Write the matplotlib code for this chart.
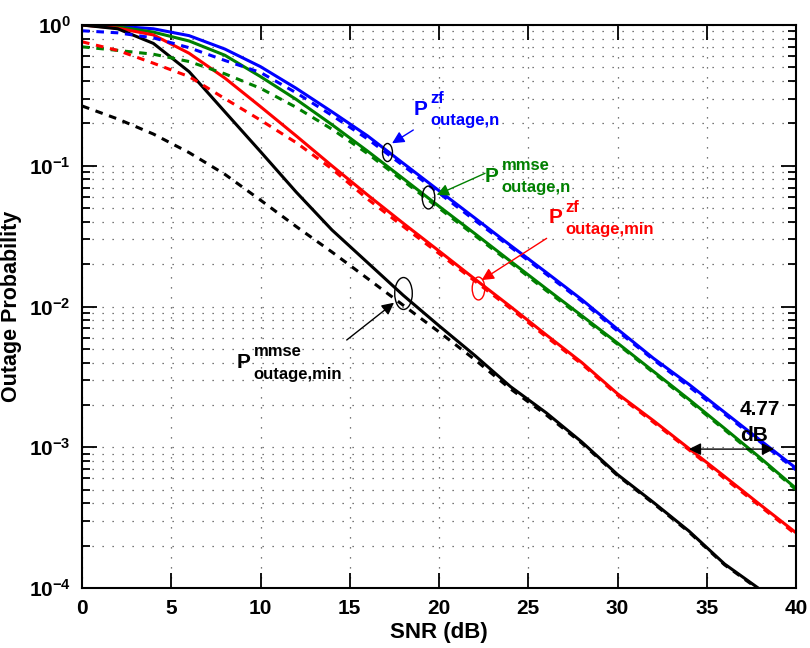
import numpy as np
import matplotlib
matplotlib.use('Agg')
import matplotlib.pyplot as plt
from matplotlib.path import Path
from matplotlib.ticker import FuncFormatter, NullFormatter, LogLocator, MultipleLocator

plt.rcParams['font.family'] = ['Liberation Sans', 'DejaVu Sans']
plt.rcParams['font.weight'] = 'bold'
plt.rcParams['mathtext.fontset'] = 'custom'
plt.rcParams['mathtext.rm'] = 'Liberation Sans:bold'
plt.rcParams['mathtext.bf'] = 'Liberation Sans:bold'
plt.rcParams['mathtext.it'] = 'Liberation Sans:bold'

# SNR grid (dB)
snr = [0, 2, 4, 6, 8, 10, 12, 14, 16, 18, 20, 22, 24, 26, 28, 30, 32, 34, 36, 38, 40]

# outage probabilities
zf_n = [1.0, 0.98, 0.94, 0.84, 0.675, 0.506, 0.355, 0.242, 0.163, 0.104, 0.0665,
        0.0426, 0.0272, 0.0175, 0.0112, 0.0069, 0.0043, 0.0028, 0.00177, 0.00112, 0.00071]
zf_n_d = [0.91, 0.88, 0.81, 0.69, 0.56, 0.46, 0.33, 0.228, 0.155, 0.1, 0.064,
          0.041, 0.0265, 0.017, 0.0109, 0.0067, 0.0042, 0.0027, 0.00172, 0.00109, 0.00069]
mmse_n = [1.0, 0.97, 0.89, 0.77, 0.61, 0.43, 0.296, 0.196, 0.127, 0.081, 0.0515,
          0.033, 0.021, 0.0134, 0.0086, 0.0055, 0.00347, 0.00219, 0.00136, 0.00084, 0.00051]
mmse_n_d = [0.70, 0.66, 0.62, 0.55, 0.45, 0.355, 0.26, 0.182, 0.122, 0.078, 0.05,
            0.032, 0.0205, 0.013, 0.0084, 0.0054, 0.0034, 0.00214, 0.00133, 0.00082, 0.0005]
zf_min = [1.0, 0.95, 0.85, 0.63, 0.42, 0.263, 0.163, 0.1, 0.062, 0.039, 0.0248,
          0.0157, 0.01, 0.0063, 0.004, 0.0024, 0.00155, 0.00098, 0.00062, 0.00039, 0.000247]
zf_min_d = [0.76, 0.66, 0.535, 0.43, 0.30, 0.211, 0.146, 0.095, 0.058, 0.037, 0.0238,
            0.0152, 0.0097, 0.0061, 0.0039, 0.00235, 0.00151, 0.00096, 0.0006, 0.00038, 0.00024]
mmse_min = [1.0, 0.94, 0.74, 0.466, 0.242, 0.126, 0.065, 0.035, 0.0205, 0.012, 0.0073,
            0.0045, 0.0027, 0.00176, 0.00109, 0.00064, 0.000407, 0.000254, 0.000148, 0.0000975, 0.000067]
mmse_min_d = [0.266, 0.215, 0.168, 0.124, 0.087, 0.057, 0.037, 0.0244, 0.0158, 0.0102, 0.0066,
              0.0042, 0.0026, 0.0017, 0.00107, 0.00063, 0.0004, 0.00025, 0.000146, 0.000096, 0.000066]

fig = plt.figure(figsize=(8.1, 6.48), dpi=100)
ax = fig.add_axes([82/810, 60/648, 714/810, 563/648])

lw = 2.2
dash = (0, (2.5, 2.2))
ax.plot(snr, zf_n, color='blue', lw=lw)
ax.plot(snr, mmse_n, color='green', lw=lw)
ax.plot(snr, zf_min, color='red', lw=lw)
ax.plot(snr, mmse_min, color='black', lw=lw)
ax.plot(snr, zf_n_d, color='blue', lw=lw, ls=dash)
ax.plot(snr, mmse_n_d, color='green', lw=lw, ls=dash)
ax.plot(snr, zf_min_d, color='red', lw=lw, ls=dash)
ax.plot(snr, mmse_min_d, color='black', lw=lw, ls=dash)

ax.set_yscale('log')
ax.set_xlim(0, 40)
ax.set_ylim(1e-4, 1)
ax.xaxis.set_major_locator(MultipleLocator(5))
ax.yaxis.set_major_locator(LogLocator(base=10, numticks=10))
ax.yaxis.set_minor_locator(LogLocator(base=10, subs=np.arange(2, 10), numticks=50))
ax.yaxis.set_major_formatter(FuncFormatter(lambda v, p: r'$10^{%d}$' % round(np.log10(v))))
ax.yaxis.set_minor_formatter(NullFormatter())

ax.tick_params(which='both', direction='in', top=True, right=True, width=1.3)
ax.tick_params(which='major', length=11, labelsize=15, pad=8)
ax.tick_params(which='minor', length=6)
for s in ax.spines.values():
    s.set_linewidth(1.5)

grid_kw = dict(color='0.3', linestyle=(0, (1, 7)), linewidth=0.9)
ax.grid(True, which='major', **grid_kw)
ax.yaxis.grid(True, which='minor', **grid_kw)

ax.set_xlabel('SNR (dB)', fontsize=16, fontweight='bold', labelpad=3)
ax.set_ylabel('Outage Probability', fontsize=15.5, fontweight='bold', labelpad=5)


def plabel(x, y, sup, sub, color):
    ax.text(x, y, 'P', color=color, fontsize=15, fontweight='bold', va='baseline')
    ax.annotate(sup, (x, y), xytext=(12, 8.5), textcoords='offset points',
                color=color, fontsize=12, fontweight='bold', va='baseline')
    ax.annotate(sub, (x, y), xytext=(12, -7.5), textcoords='offset points',
                color=color, fontsize=12, fontweight='bold', va='baseline')


def ellipse(x, y, ms, color):
    c = Path.unit_circle()
    ell = Path(c.vertices * [0.55, 1.0], c.codes)
    ax.plot([x], [y], marker=ell, ms=ms, mfc='none', mec=color, mew=1, ls='none')


def arrow(tail, head, color):
    ax.annotate('', xy=head, xytext=tail,
                arrowprops=dict(arrowstyle='-|>', color=color, lw=1,
                                mutation_scale=18, shrinkA=0, shrinkB=0))


plabel(18.56, 0.2296, 'zf', 'outage,n', 'blue')
plabel(22.58, 0.0771, 'mmse', 'outage,n', 'green')
plabel(26.12, 0.039, 'zf', 'outage,min', 'red')
plabel(8.67, 0.00364, 'mmse', 'outage,min', 'black')

ellipse(17.09, 0.1259, 13, 'black')
ellipse(19.37, 0.0603, 16.5, 'black')
ellipse(22.17, 0.01346, 16.5, 'red')
ellipse(18.0, 0.0124, 23, 'black')

arrow((18.56, 0.1795), (17.37, 0.1444), 'blue')
arrow((22.58, 0.0884), (19.87, 0.062), 'green')
arrow((26.03, 0.0305), (22.39, 0.0154), 'red')
arrow((14.83, 0.00578), (17.48, 0.01064), 'black')

ax.annotate('', xy=(38.77, 9.7e-4), xytext=(34.0, 9.7e-4),
            arrowprops=dict(arrowstyle='<|-|>', color='black', lw=1,
                            mutation_scale=18, shrinkA=0, shrinkB=0))
ax.text(36.86, 0.00169, '4.77', fontsize=15, fontweight='bold', va='baseline')
ax.text(36.86, 0.00111, 'dB', fontsize=15, fontweight='bold', va='baseline')

fig.savefig('out.png', dpi=100)
